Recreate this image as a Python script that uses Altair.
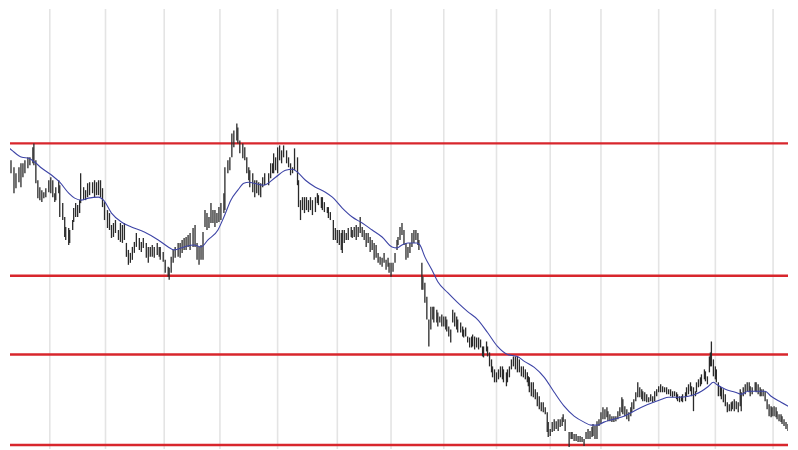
import altair as alt
import pandas as pd

# Session position (time units) of each price bar
t = [2, 7, 9, 12, 14, 17, 19, 21, 23, 26, 28, 31, 32, 34, 36, 38, 40, 42, 44, 47, 49, 51, 53, 54, 57, 58,
     61, 63, 64, 67, 68, 71, 72, 74, 76, 78, 79, 82, 84, 86, 88, 91, 93, 95, 97, 99, 101, 103, 106, 108,
     110, 112, 114, 117, 119, 121, 123, 125, 127, 129, 131, 133,
     135, 138, 140, 142, 145, 147, 149, 151, 153, 156, 158, 159, 162, 164, 167, 168, 170, 172, 174, 177,
     179, 181, 183, 185, 187, 189, 192, 194, 196, 198, 200, 202, 204, 206, 208, 210, 212, 214, 216, 218,
     220, 223, 224, 227, 229, 231, 233, 236, 237, 239, 242, 244, 246, 248, 249, 252, 254, 256, 258, 260,
     262, 264,
     268, 270, 272, 273, 275, 277, 279, 281, 283, 286, 288, 290, 292, 294, 297, 298, 300, 302, 304, 306,
     308, 310, 312, 315, 317, 318, 321, 322, 324, 327, 328, 330, 333, 335, 337, 339, 341, 342, 344, 346,
     348, 351, 352, 354, 356, 358, 360, 362, 364, 366, 368, 370, 372, 374, 376, 378, 380, 382, 384, 386,
     388, 389, 391, 393, 395, 397, 398,
     400, 402, 404, 406, 408, 410, 412, 414, 416, 418, 419, 422, 423, 425, 427, 429, 431, 433, 434, 437,
     438, 440, 442, 444, 446, 447, 449, 451, 453, 455, 457, 458, 461, 463, 464, 466, 468, 470, 472, 473,
     475, 477, 479, 481, 483, 484, 487, 488, 490, 492, 493, 495, 497, 499, 501, 503, 504, 507, 508, 510,
     512, 514, 516, 518, 520, 522, 524, 526, 528, 529,
     530, 532, 534, 536, 538, 540, 542, 544, 546, 548, 549, 551, 553, 555, 557, 559, 561, 563, 564, 566,
     570, 572, 573, 575, 577, 579, 581, 583, 585, 587, 589, 591, 593, 594, 596, 598, 600, 602, 604, 606,
     608, 609, 611, 613, 615, 617, 619, 621, 623, 624, 626, 628, 630, 632, 633, 635, 637, 639, 641, 643,
     644, 646, 648, 650, 652, 654, 656, 658, 660,
     662, 664, 666, 668, 670, 672, 674, 676, 678, 679, 681, 683, 684, 687, 688, 690, 692, 693, 695, 697,
     698, 700, 702, 703, 706, 707, 709, 711, 712, 713, 715, 717, 718, 720, 722, 723, 725, 727, 729, 731,
     733, 734, 736, 738, 740, 742, 743, 745, 747, 749, 751, 752, 754, 757, 758, 760, 762, 763, 765, 767,
     769, 771, 773, 774, 776, 778, 779, 781, 783, 784, 786, 788, 790, 792]

high = [282, 303, 290, 283, 277, 283, 287, 287, 290, 293, 293, 303, 307, 290, 270, 263, 260, 258, 262, 270, 273, 270, 257, 263, 270, 265,
        247, 233, 223, 222, 220, 230, 242, 247, 245, 250, 277, 263, 260, 267, 268, 268, 270, 268, 270, 270, 262, 248, 240, 237,
        225, 227, 230, 220, 227, 225, 227, 207, 200, 197, 203, 208,
        217, 212, 208, 212, 207, 203, 203, 205, 203, 207, 203, 203, 198, 190, 183, 182, 193, 200, 203, 207,
        207, 210, 212, 213, 215, 217, 222, 225, 207, 203, 205, 218, 240, 237, 233, 247, 240, 240, 237, 243,
        247, 257, 283, 290, 293, 317, 320, 327, 323, 310, 307, 303, 293, 283, 280, 277, 270, 270, 268, 267,
        273, 277,
        277, 287, 287, 297, 293, 303, 305, 300, 305, 300, 293, 287, 283, 302, 293, 270, 250, 253, 253, 253,
        250, 253, 250, 253, 257, 255, 253, 253, 248, 243, 243, 238, 230, 222, 220, 220, 217, 220, 220, 217,
        222, 223, 220, 223, 225, 223, 233, 223, 220, 217, 217, 213, 210, 207, 205, 197, 193, 192, 197, 190,
        192, 187, 187, 187, 197, 210, 213,
        223, 227, 220, 207, 203, 207, 217, 220, 220, 217, 210, 187, 173, 167, 153, 130, 143, 143, 143, 140,
        137, 133, 135, 133, 133, 130, 123, 120, 140, 137, 133, 130, 127, 123, 120, 122, 113, 112, 113, 115,
        113, 112, 112, 110, 103, 103, 108, 103, 97, 90, 83, 80, 77, 80, 83, 83, 80, 77, 80, 83,
        90, 93, 93, 93, 90, 83, 83, 80, 77, 73,
        72, 67, 67, 60, 57, 53, 47, 47, 42, 37, 27, 20, 27, 30, 28, 30, 30, 32, 35, 30,
        17, 17, 17, 15, 15, 13, 13, 12, 10, 17, 20, 18, 22, 25, 23, 28, 30, 37, 42, 40,
        42, 38, 35, 33, 33, 33, 38, 42, 52, 50, 43, 40, 37, 42, 47, 50, 57, 67, 62, 60,
        58, 57, 55, 52, 55, 53, 58, 60, 63,
        65, 63, 62, 62, 60, 60, 58, 58, 57, 55, 53, 53, 55, 57, 62, 65, 67, 63, 62, 58,
        67, 70, 72, 75, 80, 78, 73, 93, 97, 108, 90, 83, 80, 67, 63, 62, 60, 55, 47, 45,
        47, 48, 50, 48, 47, 60, 57, 62, 65, 67, 67, 63, 62, 67, 67, 65, 62, 60, 60, 58,
        50, 45, 43, 42, 43, 42, 38, 35, 35, 33, 30, 27, 25, 23]

low = [265, 273, 277, 257, 262, 268, 263, 273, 277, 282, 285, 287, 285, 267, 252, 250, 248, 252, 253, 258, 257, 253, 248, 250, 257, 233,
       230, 213, 210, 205, 207, 220, 228, 233, 233, 237, 247, 250, 250, 253, 255, 257, 253, 255, 255, 253, 243, 230, 222, 220,
       212, 213, 217, 210, 208, 207, 210, 193, 185, 187, 190, 197,
       203, 200, 198, 202, 192, 187, 193, 193, 192, 195, 193, 190, 188, 177, 173, 170, 177, 187, 192, 193,
       192, 197, 200, 200, 203, 200, 203, 203, 190, 185, 190, 190, 223, 220, 222, 227, 227, 223, 227, 228,
       230, 237, 240, 277, 280, 293, 303, 310, 307, 297, 292, 290, 277, 270, 263, 258, 253, 257, 255, 253,
       263, 265,
       265, 272, 277, 277, 280, 277, 290, 287, 293, 287, 283, 275, 277, 280, 265, 243, 230, 240, 237, 240,
       238, 240, 235, 238, 247, 245, 242, 240, 238, 237, 232, 230, 210, 210, 207, 205, 200, 197, 207, 210,
       210, 213, 212, 213, 210, 213, 217, 213, 210, 203, 207, 198, 200, 190, 192, 187, 185, 183, 187, 180,
       183, 177, 173, 178, 187, 200, 205,
       210, 215, 205, 190, 192, 197, 203, 207, 210, 205, 200, 160, 160, 147, 130, 103, 120, 130, 127, 127,
       123, 127, 123, 123, 120, 118, 113, 107, 127, 123, 120, 117, 117, 113, 112, 113, 107, 102, 102, 103,
       100, 102, 100, 102, 93, 92, 98, 93, 83, 77, 72, 67, 67, 70, 72, 70, 67, 63, 67, 72,
       80, 83, 80, 77, 77, 73, 72, 70, 67, 63,
       57, 53, 52, 50, 43, 40, 38, 37, 35, 17, 12, 13, 17, 18, 20, 18, 22, 23, 27, 18,
       2, 10, 10, 8, 8, 7, 7, 7, 3, 10, 10, 10, 12, 13, 10, 10, 23, 25, 30, 30,
       32, 28, 28, 27, 27, 28, 30, 33, 37, 35, 33, 30, 28, 33, 37, 40, 48, 52, 52, 50,
       48, 48, 47, 47, 48, 47, 48, 53, 57,
       57, 57, 57, 55, 55, 53, 52, 53, 50, 48, 47, 48, 47, 48, 53, 55, 58, 53, 38, 53,
       57, 62, 63, 65, 70, 68, 65, 77, 83, 83, 73, 70, 67, 53, 53, 50, 47, 43, 37, 38,
       38, 40, 38, 40, 37, 43, 38, 53, 55, 58, 57, 53, 55, 58, 57, 55, 53, 53, 53, 48,
       40, 33, 32, 33, 33, 32, 30, 28, 27, 25, 23, 20, 18, 18]

# Moving average, read at sample points
ma_t = [0, 10, 20, 27, 33, 40, 50, 58, 67, 73, 80, 87, 97, 102, 110, 120, 130, 143, 157, 167, 173, 183,
        193, 200, 207, 217, 223, 230, 237, 243, 248, 253, 263, 275, 285, 292, 297, 305, 315, 325, 332,
        342, 352, 362, 372, 382, 392, 397, 402, 408, 417, 420, 425, 432, 438, 448, 458, 468, 478, 488,
        498, 508, 518, 525, 535, 545, 555, 565, 575, 585, 592, 598, 605, 615, 625, 635, 645, 655, 663,
        670, 680, 690, 697, 703, 710, 715, 718, 727, 737, 743, 750, 760, 767, 773, 783, 792]
ma_v = [309, 300, 293, 292, 288, 282, 275, 268, 257, 252, 250, 252, 253, 250, 237, 228, 223, 218, 210, 203,
        200, 203, 205, 203, 210, 220, 233, 250, 260, 267, 268, 267, 265, 273, 280, 281, 278, 270, 263, 258,
        253, 242, 233, 227, 220, 213, 203, 202, 205, 207, 207, 205, 193, 180, 168, 157, 147, 138, 130, 117,
        103, 95, 93, 88, 82, 72, 57, 43, 33, 27, 24, 24, 27, 30, 33, 38, 43, 47, 50,
        52, 52, 53, 55, 58, 63, 67, 65, 60, 57, 55, 58, 58, 58, 53, 47, 42]

# Horizontal support / resistance levels and monthly grid positions
levels = [307, 174, 95, 4]
grid_t = [48, 104, 163, 219, 277, 337, 391, 444, 497, 551, 602, 660, 717, 775]

bars_df = pd.DataFrame({"t": t, "high": high, "low": low})
ma_df = pd.DataFrame({"t": ma_t, "ma": ma_v})
lvl_df = pd.DataFrame({"level": levels})
grid_df = pd.DataFrame({"t": grid_t})

xs = alt.Scale(domain=[8, 790], nice=False, zero=False)
ys = alt.Scale(domain=[0, 442], nice=False, zero=False)

grid = alt.Chart(grid_df).mark_rule(color="#e4e4e4", strokeWidth=1.6).encode(
    x=alt.X("t:Q", scale=xs, axis=None)
)
lines = alt.Chart(lvl_df).mark_rule(color="#d8262c", strokeWidth=2.4).encode(
    y=alt.Y("level:Q", scale=ys, axis=None)
)
bars = alt.Chart(bars_df).mark_rule(color="#2a2a2a", strokeWidth=1.3, clip=True).encode(
    x=alt.X("t:Q", scale=xs, axis=None),
    y=alt.Y("low:Q", scale=ys, axis=None),
    y2="high:Q",
)
ma = alt.Chart(ma_df).mark_line(color="#3d44a6", strokeWidth=1.1, clip=True, interpolate="monotone").encode(
    x=alt.X("t:Q", scale=xs, axis=None),
    y=alt.Y("ma:Q", scale=ys, axis=None),
)

chart = alt.layer(grid, lines, bars, ma).properties(
    width=782, height=442, padding=0,
    autosize=alt.AutoSizeParams(type="fit", contains="padding"),
    background="white",
).configure_view(stroke=None)

chart.save("out.html", embed_options={"renderer": "svg", "actions": False})
